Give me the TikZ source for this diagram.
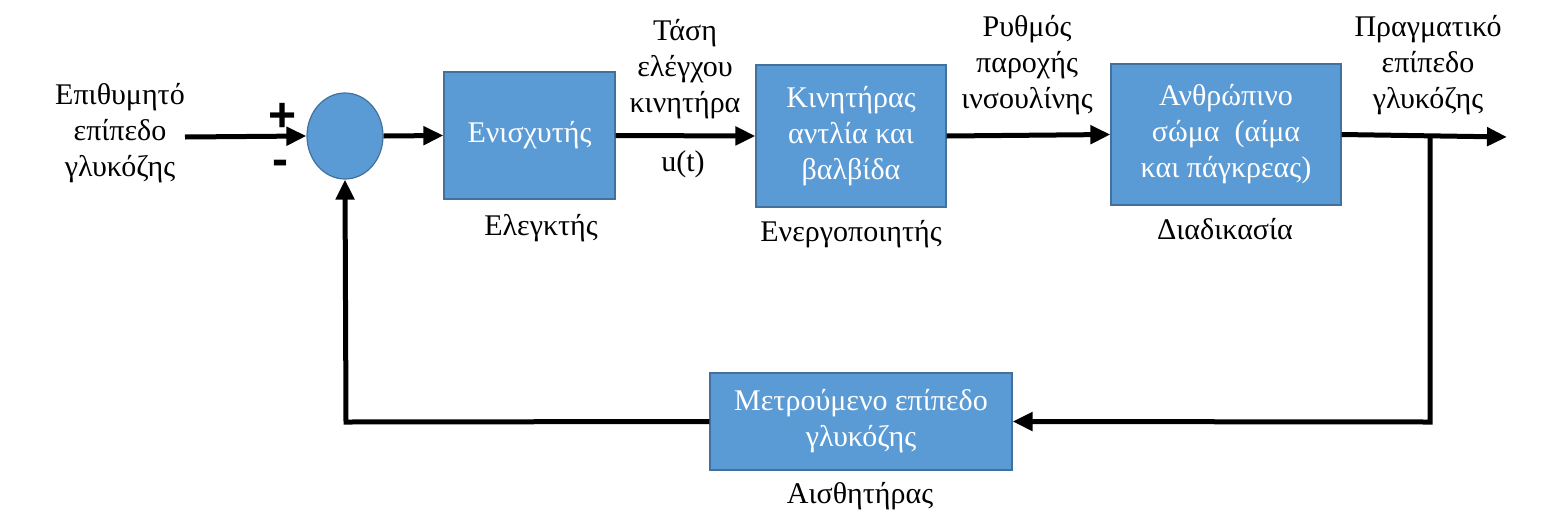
\documentclass[tikz,border=0pt]{standalone}
\usepackage{fontspec}
\setmainfont{Liberation Serif}
\newfontfamily\plusfont{Liberation Sans}
\usetikzlibrary{arrows.meta,shapes.geometric}
\definecolor{boxfill}{HTML}{5B9BD5}
\definecolor{boxline}{HTML}{41719C}
\tikzset{
  blk/.style={draw=boxline,line width=0.6pt,fill=boxfill,text=white,align=center,inner sep=0pt,
    font=\fontsize{15}{18}\selectfont},
  lbl/.style={align=center,inner sep=0pt,font=\fontsize{15}{18}\selectfont},
  sgn/.style={inner sep=0pt,font=\plusfont\bfseries\fontsize{24}{24}\selectfont},
  arr/.style={line width=2.5pt,-{Triangle[length=10pt,width=9pt]}},
  ln/.style={line width=2.5pt}
}
\begin{document}
\begin{tikzpicture}[x=0.5pt,y=-0.5pt]
\useasboundingbox (0,0) rectangle (1564,531);
% blocks
\node[blk,ellipse,minimum width=38pt,minimum height=43pt] (sum) at (345,136) {};
\node[blk,minimum width=85.5pt,minimum height=63.5pt] (amp) at (529.5,135.5) {Ενισχυτής};
\node[blk,minimum width=95pt,minimum height=71pt] (mot) at (851,136) {Κινητήρας\\αντλία και\\βαλβίδα};
\node[blk,minimum width=115pt,minimum height=70.5pt] (body) at (1226,134.5) {Ανθρώπινο\\σώμα \ (αίμα\\και πάγκρεας)};
\node[blk,minimum width=151pt,minimum height=48.5pt] (sens) at (861,421.5) {Μετρούμενο επίπεδο\\γλυκόζης};
% labels
\node[lbl] (lin) at (120,133) {Επιθυμητό\\επίπεδο\\γλυκόζης};
\node[sgn] (plus) at (283,117) {+};
\node[sgn] (minus) at (280,168) {-};
\node[lbl] (lamp) at (541,228) {Ελεγκτής};
\node[lbl] (lv) at (685,69) {Τάση\\ελέγχου\\κινητήρα};
\node[lbl] (lu) at (683,164) {u(t)};
\node[lbl] (lmot) at (851,234) {Ενεργοποιητής};
\node[lbl] (lrate) at (1027,65) {Ρυθμός\\παροχής\\ινσουλίνης};
\node[lbl] (lbody) at (1225,229) {Διαδικασία};
\node[lbl] (lout) at (1428,65) {Πραγματικό\\επίπεδο\\γλυκόζης};
\node[lbl] (lsens) at (860,496) {Αισθητήρας};
% coordinates
\coordinate (in) at (185,137);
\coordinate (out) at (1507,137);
\coordinate (br) at (1430,137);
\coordinate (brd) at (1430,422);
\coordinate (fbl) at (346,422);
% connectors
\draw[arr] (in) -- (sum.west);
\draw[arr] (sum.east) -- (amp.west);
\draw[arr] (amp.east) -- (mot.west);
\draw[arr] (mot.east) -- (body.west);
\draw[arr] (body.east) -- (out);
\draw[arr] (br) -- (brd) -- (sens.east);
\draw[arr] (sens.west) -- (fbl) -- (sum.south);
\end{tikzpicture}
\end{document}
